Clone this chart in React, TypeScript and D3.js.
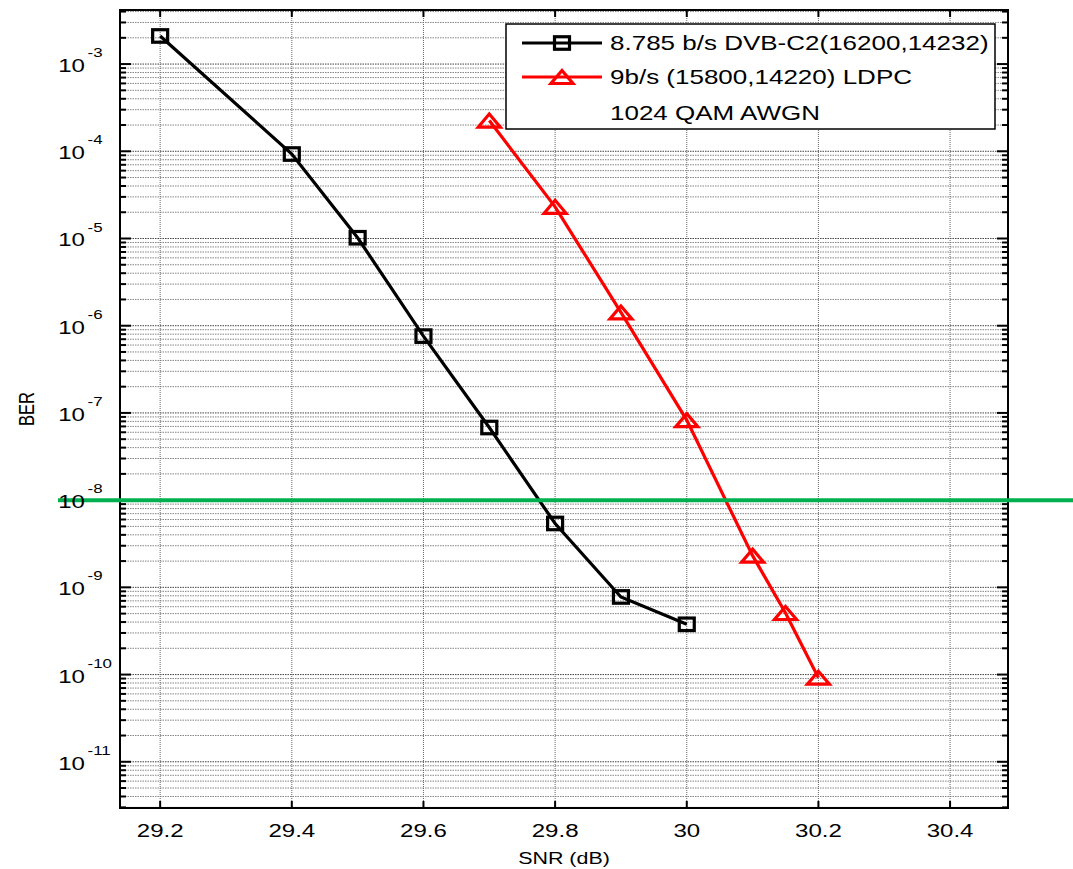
import React from "react";
import * as d3 from "d3";

const snrBlack = [29.2, 29.4, 29.5, 29.6, 29.7, 29.8, 29.9, 30.0];
const berBlack = [2.1e-3, 9.3e-5, 1.02e-5, 7.6e-7, 6.8e-8, 5.4e-9, 7.76e-10, 3.77e-10];
const snrRed = [29.7, 29.8, 29.9, 30.0, 30.1, 30.15, 30.2];
const berRed = [2.25e-4, 2.31e-5, 1.42e-6, 8.27e-8, 2.31e-9, 5.08e-10, 9.2e-11];
const xTicks = [29.2, 29.4, 29.6, 29.8, 30, 30.2, 30.4];
const yExponents = [-3, -4, -5, -6, -7, -8, -9, -10, -11];
const legendLabels = ["8.785 b/s DVB-C2(16200,14232)", "9b/s (15800,14220) LDPC", "1024 QAM AWGN"];
const targetBER = 1e-8;

const W = 1073, H = 869;
const L = 120, R = 1008, T = 10, B = 808;
const SX = 1.3;
const FONT = "'Liberation Sans', Arial, sans-serif";

const x = d3.scaleLinear().domain([29.139, 30.488]).range([L, R]);
const y = d3.scaleLog().domain([Math.pow(10, -11.53), Math.pow(10, -2.38)]).range([B, T]);

function ST({ x: tx, y: ty, anchor = "start", size, children, rotate = 0, fill = "#000" }: any) {
  const tr = rotate
    ? `translate(${tx},${ty}) rotate(${rotate}) scale(1,${SX})`
    : `translate(${tx},${ty}) scale(${SX},1)`;
  return (
    <text transform={tr} textAnchor={anchor} fontSize={size} fontFamily={FONT} fill={fill}>
      {children}
    </text>
  );
}

function Square({ cx, cy }: any) {
  const w = 15, h = 12.5;
  return <rect x={cx - w / 2} y={cy - h / 2} width={w} height={h} fill="none" stroke="#000" strokeWidth={3.2} />;
}
function Tri({ cx, cy }: any) {
  const w = 22, h = 13;
  const p = `${cx},${cy - h / 2} ${cx + w / 2},${cy + h / 2} ${cx - w / 2},${cy + h / 2}`;
  return <polygon points={p} fill="none" stroke="#ff0000" strokeWidth={3.2} strokeLinejoin="miter" />;
}

export default function App() {
  const minor: number[] = [];
  const majorInRange: number[] = [];
  const [lo, hi] = y.domain();
  for (let e = -12; e <= -2; e++) {
    for (let k = 1; k <= 9; k++) {
      const v = k * Math.pow(10, e);
      if (v < lo || v > hi) continue;
      if (k === 1) majorInRange.push(v);
      else minor.push(v);
    }
  }
  const line = d3.line<[number, number]>().x((d) => x(d[0])).y((d) => y(d[1]));
  const blackPts: [number, number][] = snrBlack.map((s, i) => [s, berBlack[i]]);
  const redPts: [number, number][] = snrRed.map((s, i) => [s, berRed[i]]);

  return (
    <svg width={W} height={H} style={{ position: "absolute", left: 0, top: 0, background: "#fff" }}>
      <rect x={0} y={0} width={W} height={H} fill="#fff" />
      <g>
        {minor.map((v, i) => (
          <line key={"mg" + i} x1={L} x2={R} y1={y(v)} y2={y(v)} stroke="#858585" strokeWidth={1} strokeDasharray="1.5 1" />
        ))}
        {majorInRange.map((v, i) => (
          <line key={"Mg" + i} x1={L} x2={R} y1={y(v)} y2={y(v)} stroke="#444" strokeWidth={1} strokeDasharray="1.5 1" />
        ))}
        {xTicks.map((t, i) => (
          <line key={"vg" + i} x1={x(t)} x2={x(t)} y1={T} y2={B} stroke="#666" strokeWidth={1} strokeDasharray="1 1" />
        ))}
      </g>
      <g stroke="#000" strokeWidth={2}>
        {minor.map((v, i) => (
          <g key={"mt" + i}>
            <line x1={L} x2={L + 6} y1={y(v)} y2={y(v)} />
            <line x1={R} x2={R - 6} y1={y(v)} y2={y(v)} />
          </g>
        ))}
        {majorInRange.map((v, i) => (
          <g key={"Mt" + i}>
            <line x1={L} x2={L + 11} y1={y(v)} y2={y(v)} />
            <line x1={R} x2={R - 11} y1={y(v)} y2={y(v)} />
          </g>
        ))}
        {xTicks.map((t, i) => (
          <g key={"xt" + i}>
            <line x1={x(t)} x2={x(t)} y1={B} y2={B - 7} />
            <line x1={x(t)} x2={x(t)} y1={T} y2={T + 7} />
          </g>
        ))}
      </g>
      <rect x={L} y={T} width={R - L} height={B - T} fill="none" stroke="#000" strokeWidth={2} />

      <path d={line(blackPts) || ""} fill="none" stroke="#000" strokeWidth={3.2} />
      {blackPts.map((d, i) => (
        <Square key={"s" + i} cx={x(d[0])} cy={y(d[1])} />
      ))}
      <path d={line(redPts) || ""} fill="none" stroke="#ff0000" strokeWidth={3.2} />
      {redPts.map((d, i) => (
        <Tri key={"t" + i} cx={x(d[0])} cy={y(d[1])} />
      ))}

      <line x1={58} x2={W} y1={y(targetBER)} y2={y(targetBER)} stroke="#00b050" strokeWidth={4} />

      {yExponents.map((e) => {
        const yy = y(Math.pow(10, e));
        return (
          <g key={"yl" + e} transform={`translate(85,${yy + 8}) scale(${SX},1)`}>
            <text textAnchor="end" fontSize={18.5} fontFamily={FONT} fill="#000">10</text>
            <text x={2} y={-15} textAnchor="start" fontSize={13} fontFamily={FONT} fill="#000">{String(e)}</text>
          </g>
        );
      })}
      {xTicks.map((t, i) => (
        <ST key={"xl" + i} x={x(t)} y={837} anchor="middle" size={18.5}>
          {String(t)}
        </ST>
      ))}
      <ST x={(L + R) / 2} y={864} anchor="middle" size={16.5}>SNR (dB)</ST>
      <ST x={34} y={(T + B) / 2} anchor="middle" size={16.5} rotate={-90}>BER</ST>

      <rect x={506} y={24} width={489} height={105} fill="#fff" stroke="#000" strokeWidth={1.5} />
      <line x1={522} x2={602} y1={43} y2={43} stroke="#000" strokeWidth={3.2} />
      <Square cx={562} cy={43} />
      <line x1={522} x2={602} y1={77} y2={77} stroke="#ff0000" strokeWidth={3.2} />
      <Tri cx={562} cy={77} />
      <ST x={610} y={50} size={20}>{legendLabels[0]}</ST>
      <ST x={610} y={84} size={20}>{legendLabels[1]}</ST>
      <ST x={610} y={120} size={20}>{legendLabels[2]}</ST>
    </svg>
  );
}
